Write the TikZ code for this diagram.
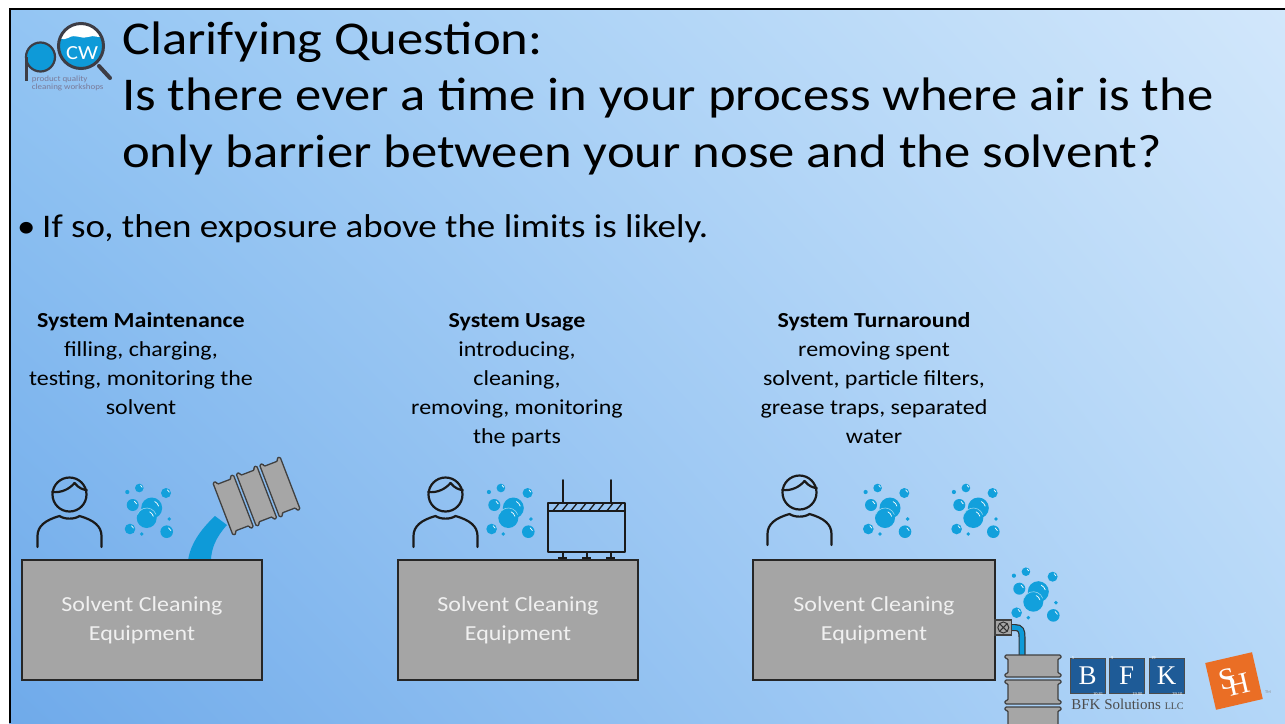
\documentclass[tikz,border=0pt]{standalone}
\usepackage{fontspec}
\usetikzlibrary{shadings}
\setmainfont[FakeStretch=1.12]{Carlito}
\newfontfamily\logoserif{Liberation Serif}
\definecolor{bubblecol}{HTML}{12A0DC}
\definecolor{boxgray}{HTML}{A5A5A5}
\definecolor{drumgray}{HTML}{A6A6A6}
\definecolor{inkcol}{HTML}{1A1A1A}
\definecolor{bfkblue}{HTML}{1E5B97}
\definecolor{shorange}{HTML}{EA6E25}
\definecolor{logoblue}{HTML}{0E9AD8}
\definecolor{logoring}{HTML}{3D3D45}
\definecolor{logotext}{HTML}{7A7A98}
\definecolor{bgUL}{RGB}{147,197,243}
\definecolor{bgUR}{RGB}{210,231,251}
\definecolor{bgLL}{RGB}{111,170,234}
\definecolor{bgLR}{RGB}{180,215,248}
% one section of a steel drum, axis along y, from #1 to #2, body half width #3
\newcommand\drumseg[3]{%
  \draw[drumline] (-#3-3,#1) -- (#3+3,#1) -- (#3+3,#1+3.5) -- (#3,#1+3.5) -- (#3,#2-3.5)
    -- (#3+3,#2-3.5) -- (#3+3,#2) -- (-#3-3,#2) -- (-#3-3,#2-3.5) -- (-#3,#2-3.5)
    -- (-#3,#1+3.5) -- (-#3-3,#1+3.5) -- cycle;}
% a bubble with a small glint
\newcommand\bub[3]{%
  \fill[bubblecol] (#1,#2) circle (#3);
  \draw[white, line width=0.7pt, line cap=round] (#1,#2) ++(-15:#3*0.68) arc (-15:-65:#3*0.68);}
\tikzset{
  ink/.style={draw=inkcol, line width=2.2pt, line cap=round, line join=round},
  drumline/.style={fill=drumgray, draw=black!75, line width=1.3pt, rounded corners=1.2pt},
  eqbox/.style={draw=black!85, line width=1.3pt, fill=boxgray, minimum width=240pt,
    minimum height=120pt, inner sep=0pt, align=center, text=white!94!black,
    font=\fontsize{21.4}{29}\selectfont},
  coltext/.style={align=center, inner sep=0pt, font=\fontsize{21.4}{29}\selectfont},
  titletext/.style={anchor=base west, inner sep=0pt, font=\fontsize{47}{56}\selectfont},
  bfkbox/.style={draw=black!70, line width=0.8pt, fill=bfkblue, minimum size=35pt,
    inner sep=0pt, text=white, font=\logoserif\fontsize{27}{27}\selectfont},
  bfknum/.style={inner sep=0pt, text=white, font=\logoserif\fontsize{4.5}{5}\selectfont},
  person/.pic={
    \draw[ink] (0,1.5) circle (17);
    \draw[ink] (-17.3,-1) .. controls (-8,0) and (0,-4) .. (5,-10)
      .. controls (9,-5) and (14,-3) .. (17.3,-3);
    \draw[ink] (-32,54) -- (-32,43) .. controls (-32,33) and (-24,27) .. (-10,23)
      .. controls (-5,26.5) and (5,26.5) .. (10,23)
      .. controls (24,27) and (32,33) .. (32,43) -- (32,54);
  },
  bubbles/.pic={
    \bub{3.7}{-4}{10.5}
    \fill[bubblecol] (-1.3,6) circle (10);
    \draw[white!55!bubblecol, line width=0.6pt] (-1.3,6) ++(-20:10) arc (-20:-160:10);
    \draw[white, line width=0.7pt, line cap=round] (-1.3,6) ++(-15:6.8) arc (-15:-65:6.8);
    \bub{-15.3}{-7}{6}
    \bub{18}{-19}{5}
    \bub{-8.7}{-24}{4.3}
    \bub{-18}{17}{5.3}
    \bub{18.7}{19.7}{6.3}
    \fill[bubblecol] (-20.7,-20) circle (2.1);
    \fill[bubblecol] (21.3,7) circle (1.9);
    \fill[bubblecol] (-6.3,22) circle (1.9);
  }
}
\begin{document}
\begin{tikzpicture}[x=1pt, y=-1pt]
\useasboundingbox (0,0) rectangle (1285,723);
% slide background
\fill[white] (0,0) rectangle (1285,723);
\shade[upper left=bgUL, upper right=bgUR, lower left=bgLL, lower right=bgLR]
  (9,8) rectangle (1285,723);
\draw[black, line width=2pt] (9.5,723) -- (9.5,8.5) -- (1285,8.5);

% workshop logo
\fill[logoblue] (40.5,57) circle (14.5);
\draw[logoring, line width=2.2pt] (40.5,57) circle (14.5);
\draw[logoring, line width=2.4pt] (26.5,57) -- (26.5,81);
\draw[logoring, line width=4pt, line cap=round] (99,66) -- (110,78);
\begin{scope}
  \clip (81,46) circle (22);
  \fill[logoblue] (81,46) circle (22);
  \fill[white] (55,20) -- (107,20) -- (107,35)
    .. controls (100,40) and (94,34) .. (88,37)
    .. controls (82,40) and (76,33) .. (68,38)
    .. controls (63,41) and (58,37) .. (55,38) -- cycle;
\end{scope}
\draw[logoring, line width=3pt] (81,46) circle (22.5);
\node[inner sep=0pt, text=white, font=\fontsize{20}{20}\selectfont] (cw) at (82,53) {CW};
\node[anchor=base west, inner sep=0pt, text=logotext, font=\fontsize{8}{8}\selectfont]
  (pq) at (31.7,81.7) {product quality};
\node[anchor=base west, inner sep=0pt, text=logotext, font=\fontsize{8}{8}\selectfont]
  (cws) at (31.7,89.3) {cleaning workshops};

% title and bullet
\node[titletext] (t1) at (122,54) {Clarifying Question:};
\node[titletext] (t2) at (122,110.5) {Is there ever a time in your process where air is the};
\node[titletext] (t3) at (122,167) {only barrier between your nose and the solvent?};
\node[anchor=base west, inner sep=0pt, font=\fontsize{33}{38}\selectfont] (dot) at (17,237) {•};
\node[anchor=base west, inner sep=0pt, font=\fontsize{33}{38}\selectfont] (b1) at (42,237)
  {If so, then exposure above the limits is likely.};

% column headings
\node[coltext] (c1) at (141,363.5) {\textbf{System Maintenance}\\filling, charging,\\testing, monitoring the\\solvent};
\node[coltext] (c2) at (517,380) {\textbf{System Usage}\\introducing,\\cleaning,\\removing, monitoring\\the parts};
\node[coltext] (c3) at (874,378) {\textbf{System Turnaround}\\removing spent\\solvent, particle filters,\\grease traps, separated\\water};

% people and vapour
\pic at (69.5,493) {person};
\pic at (445.5,493) {person};
\pic at (799.5,491) {person};
\pic at (148,512) {bubbles};
\pic at (509.6,512) {bubbles};
\pic at (886.3,512) {bubbles};
\pic at (974.6,512) {bubbles};
\pic at (1034.6,595.7) {bubbles};

% solvent poured from a tilted drum
\fill[logoblue] (215,516) .. controls (200,530) and (190,545) .. (188,561)
  -- (211,561) .. controls (211,549) and (216,537) .. (227,525) -- cycle;
\begin{scope}[shift={(256.5,496)}, rotate=111]
  \drumseg{-36}{-14}{25}
  \drumseg{-11}{11}{25}
  \drumseg{14}{36}{25}
\end{scope}

% parts rack
\draw[ink, line width=1.8pt] (562.7,480) -- (562.7,503.3);
\draw[ink, line width=1.8pt] (610.7,480) -- (610.7,503.3);
\draw[ink, line width=1.8pt, line cap=butt] (548.3,503.3) rectangle (625,510.7);
\foreach \hx in {553,562,571,580,589,598,607,616}
  \draw[ink, line width=1.3pt] (\hx,510.7) -- (\hx+6,503.3);
\draw[ink, line width=1.8pt, line cap=butt] (548.3,510.7) rectangle (625,552.3);
\foreach \fx in {562.7,586.7,610.7} {
  \draw[ink, line width=1.6pt] (\fx,552.3) -- (\fx,557);
  \fill[inkcol] (\fx-4.5,556.5) rectangle (\fx+4.5,560);
}

% cleaning equipment
\node[eqbox] (e1) at (142,620) {Solvent Cleaning\\Equipment};
\node[eqbox] (e2) at (518,620) {Solvent Cleaning\\Equipment};
\node[eqbox, minimum width=242pt] (e3) at (874,620) {Solvent Cleaning\\Equipment};

% drain valve, hose and waste drum
\draw[black!80, line width=7pt, line cap=butt] (1010,627.5) -- (1015,627.5)
  .. controls (1021,627.5) and (1022,631) .. (1022,637) -- (1022,656);
\draw[logoblue, line width=4.6pt, line cap=butt] (1010,627.5) -- (1015,627.5)
  .. controls (1021,627.5) and (1022,631) .. (1022,637) -- (1022,656.5);
\draw[drumline, rounded corners=0pt] (995,620) rectangle (1011.7,635);
\draw[black!80, line width=1pt] (1003.3,627.5) circle (5.5);
\draw[black!80, line width=1pt] (999.4,623.6) -- (1007.2,631.4) (999.4,631.4) -- (1007.2,623.6);
\begin{scope}[shift={(1033,0)}]
  \drumseg{655}{677}{25}
  \drumseg{680}{704}{25}
  \drumseg{707}{731}{25}
\end{scope}

% BFK Solutions logo
\node[bfkbox] (bk1) at (1087.5,675.8) {B};
\node[bfkbox] (bk2) at (1126.7,675.8) {F};
\node[bfkbox] (bk3) at (1166.7,675.8) {K};
\node[bfknum, anchor=north west] at ([shift={(2,-2)}]bk1.north west) {5};
\node[bfknum, anchor=south east] at ([shift={(-2,2)}]bk1.south east) {10.81};
\node[bfknum, anchor=north west] at ([shift={(2,-2)}]bk2.north west) {9};
\node[bfknum, anchor=south east] at ([shift={(-2,2)}]bk2.south east) {19.00};
\node[bfknum, anchor=north west] at ([shift={(2,-2)}]bk3.north west) {19};
\node[bfknum, anchor=south east] at ([shift={(-2,2)}]bk3.south east) {39.10};
\node[anchor=base, inner sep=0pt, text=black!70, font=\logoserif\fontsize{15}{15}\selectfont]
  (bfk) at (1127.5,709.5) {BFK Solutions {\fontsize{10}{10}\selectfont LLC}};

% university logo: interlocking S and H on an orange tile
\node[rotate=13, fill=shorange, minimum size=48pt, inner sep=0pt, text=white,
  font=\logoserif\fontsize{30}{30}\selectfont] (sh) at (1234,681)
  {\raisebox{3pt}{S}\kern-9pt\raisebox{-5pt}{H}};
\node[inner sep=0pt, text=black!45, font=\fontsize{4}{4}\selectfont] (tm) at (1268,692) {TM};
\end{tikzpicture}
\end{document}
